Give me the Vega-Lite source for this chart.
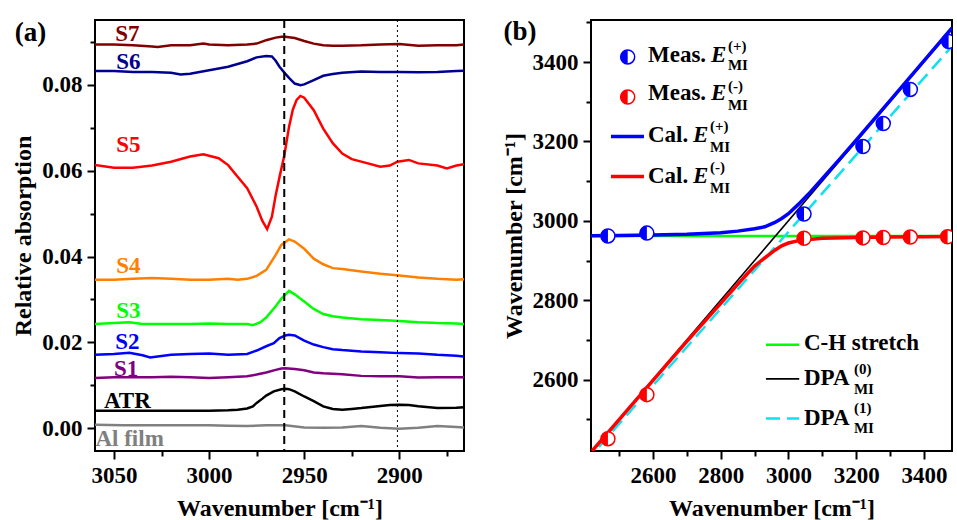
{
"$schema": "https://vega.github.io/schema/vega-lite/v6.json",
"background": "white",
"padding": {"left": 10, "top": 10, "right": 0, "bottom": 0},
"spacing": 36,
"config": {
 "font": "Liberation Serif",
 "view": {"stroke": "black", "strokeWidth": 2},
 "axis": {"labelFont": "Liberation Serif", "labelFontSize": 23, "labelFontWeight": "bold", "labelColor": "black", "titleFont": "Liberation Serif", "titleFontSize": 24, "titleFontWeight": "bold", "titleColor": "black", "tickColor": "black", "tickWidth": 2, "domain": false, "grid": false, "labelFlush": false, "labelOverlap": false, "labelPadding": 5},
 "axisX": {"titlePadding": 9},
 "axisY": {"titlePadding": 6},
 "text": {"font": "Liberation Serif", "fontWeight": "bold"}
},
"datasets": {
 "spectra": [
  {"s":"S7","w":3060,"a":0.0894},{"s":"S7","w":3050,"a":0.0894},{"s":"S7","w":3040,"a":0.0892},{"s":"S7","w":3030,"a":0.0889},{"s":"S7","w":3027,"a":0.0888},{"s":"S7","w":3020,"a":0.0892},{"s":"S7","w":3010,"a":0.0892},{"s":"S7","w":3003,"a":0.0896},{"s":"S7","w":3000,"a":0.0894},{"s":"S7","w":2990,"a":0.0892},{"s":"S7","w":2980,"a":0.0894},{"s":"S7","w":2975,"a":0.0896},{"s":"S7","w":2970,"a":0.0904},{"s":"S7","w":2965,"a":0.0910},{"s":"S7","w":2962,"a":0.0912},{"s":"S7","w":2960,"a":0.0912},{"s":"S7","w":2958,"a":0.0911},{"s":"S7","w":2955,"a":0.0909},{"s":"S7","w":2950,"a":0.0902},{"s":"S7","w":2945,"a":0.0896},{"s":"S7","w":2940,"a":0.0892},{"s":"S7","w":2935,"a":0.0891},{"s":"S7","w":2930,"a":0.0891},{"s":"S7","w":2920,"a":0.0892},{"s":"S7","w":2910,"a":0.0894},{"s":"S7","w":2900,"a":0.0895},{"s":"S7","w":2890,"a":0.0891},{"s":"S7","w":2880,"a":0.0892},{"s":"S7","w":2870,"a":0.0892},{"s":"S7","w":2866,"a":0.0894},
  {"s":"S6","w":3060,"a":0.0832},{"s":"S6","w":3050,"a":0.0832},{"s":"S6","w":3040,"a":0.0830},{"s":"S6","w":3030,"a":0.0830},{"s":"S6","w":3020,"a":0.0828},{"s":"S6","w":3015,"a":0.0824},{"s":"S6","w":3010,"a":0.0826},{"s":"S6","w":3000,"a":0.0834},{"s":"S6","w":2990,"a":0.0842},{"s":"S6","w":2980,"a":0.0855},{"s":"S6","w":2975,"a":0.0864},{"s":"S6","w":2970,"a":0.0867},{"s":"S6","w":2967,"a":0.0866},{"s":"S6","w":2965,"a":0.0856},{"s":"S6","w":2963,"a":0.0842},{"s":"S6","w":2960,"a":0.0826},{"s":"S6","w":2958,"a":0.0816},{"s":"S6","w":2955,"a":0.0803},{"s":"S6","w":2952,"a":0.0799},{"s":"S6","w":2950,"a":0.0801},{"s":"S6","w":2945,"a":0.0811},{"s":"S6","w":2940,"a":0.0821},{"s":"S6","w":2935,"a":0.0825},{"s":"S6","w":2930,"a":0.0828},{"s":"S6","w":2920,"a":0.0831},{"s":"S6","w":2910,"a":0.0830},{"s":"S6","w":2900,"a":0.0830},{"s":"S6","w":2890,"a":0.0829},{"s":"S6","w":2880,"a":0.0830},{"s":"S6","w":2870,"a":0.0832},{"s":"S6","w":2866,"a":0.0833},
  {"s":"S5","w":3060,"a":0.0613},{"s":"S5","w":3050,"a":0.0607},{"s":"S5","w":3040,"a":0.0607},{"s":"S5","w":3030,"a":0.0612},{"s":"S5","w":3020,"a":0.0621},{"s":"S5","w":3010,"a":0.0633},{"s":"S5","w":3003,"a":0.0638},{"s":"S5","w":2995,"a":0.0629},{"s":"S5","w":2990,"a":0.0613},{"s":"S5","w":2985,"a":0.0586},{"s":"S5","w":2980,"a":0.0559},{"s":"S5","w":2975,"a":0.0516},{"s":"S5","w":2972,"a":0.0483},{"s":"S5","w":2969.5,"a":0.0464},{"s":"S5","w":2967,"a":0.0493},{"s":"S5","w":2965,"a":0.0543},{"s":"S5","w":2963,"a":0.0585},{"s":"S5","w":2960.5,"a":0.0635},{"s":"S5","w":2958,"a":0.0702},{"s":"S5","w":2956,"a":0.0742},{"s":"S5","w":2954,"a":0.0765},{"s":"S5","w":2952,"a":0.0774},{"s":"S5","w":2950,"a":0.0770},{"s":"S5","w":2945,"a":0.0741},{"s":"S5","w":2940,"a":0.0698},{"s":"S5","w":2935,"a":0.0664},{"s":"S5","w":2930,"a":0.0640},{"s":"S5","w":2925,"a":0.0627},{"s":"S5","w":2920,"a":0.0621},{"s":"S5","w":2910,"a":0.0609},{"s":"S5","w":2905,"a":0.0612},{"s":"S5","w":2901,"a":0.0621},{"s":"S5","w":2895,"a":0.0625},{"s":"S5","w":2890,"a":0.0617},{"s":"S5","w":2880,"a":0.0612},{"s":"S5","w":2875,"a":0.0605},{"s":"S5","w":2870,"a":0.0612},{"s":"S5","w":2866,"a":0.0615},
  {"s":"S4","w":3060,"a":0.0346},{"s":"S4","w":3050,"a":0.0346},{"s":"S4","w":3040,"a":0.0348},{"s":"S4","w":3030,"a":0.0350},{"s":"S4","w":3020,"a":0.0348},{"s":"S4","w":3010,"a":0.0346},{"s":"S4","w":3000,"a":0.0346},{"s":"S4","w":2990,"a":0.0348},{"s":"S4","w":2985,"a":0.0346},{"s":"S4","w":2980,"a":0.0348},{"s":"S4","w":2975,"a":0.0355},{"s":"S4","w":2970,"a":0.0369},{"s":"S4","w":2965,"a":0.0404},{"s":"S4","w":2962,"a":0.0427},{"s":"S4","w":2958,"a":0.0440},{"s":"S4","w":2955,"a":0.0435},{"s":"S4","w":2950,"a":0.0418},{"s":"S4","w":2945,"a":0.0395},{"s":"S4","w":2940,"a":0.0382},{"s":"S4","w":2935,"a":0.0373},{"s":"S4","w":2930,"a":0.0371},{"s":"S4","w":2920,"a":0.0365},{"s":"S4","w":2910,"a":0.0360},{"s":"S4","w":2900,"a":0.0356},{"s":"S4","w":2890,"a":0.0351},{"s":"S4","w":2880,"a":0.0348},{"s":"S4","w":2870,"a":0.0346},{"s":"S4","w":2866,"a":0.0347},
  {"s":"S3","w":3060,"a":0.0243},{"s":"S3","w":3050,"a":0.0245},{"s":"S3","w":3042,"a":0.0247},{"s":"S3","w":3035,"a":0.0243},{"s":"S3","w":3020,"a":0.0243},{"s":"S3","w":3010,"a":0.0243},{"s":"S3","w":3000,"a":0.0244},{"s":"S3","w":2990,"a":0.0243},{"s":"S3","w":2980,"a":0.0243},{"s":"S3","w":2977,"a":0.0240},{"s":"S3","w":2973,"a":0.0247},{"s":"S3","w":2970,"a":0.0258},{"s":"S3","w":2965,"a":0.0284},{"s":"S3","w":2962,"a":0.0302},{"s":"S3","w":2958,"a":0.0320},{"s":"S3","w":2955,"a":0.0312},{"s":"S3","w":2950,"a":0.0295},{"s":"S3","w":2945,"a":0.0278},{"s":"S3","w":2940,"a":0.0266},{"s":"S3","w":2935,"a":0.0261},{"s":"S3","w":2930,"a":0.0258},{"s":"S3","w":2920,"a":0.0254},{"s":"S3","w":2910,"a":0.0252},{"s":"S3","w":2900,"a":0.0250},{"s":"S3","w":2890,"a":0.0247},{"s":"S3","w":2880,"a":0.0245},{"s":"S3","w":2870,"a":0.0244},{"s":"S3","w":2866,"a":0.0243},
  {"s":"S2","w":3060,"a":0.0171},{"s":"S2","w":3050,"a":0.0173},{"s":"S2","w":3042,"a":0.0176},{"s":"S2","w":3035,"a":0.0170},{"s":"S2","w":3031,"a":0.0165},{"s":"S2","w":3020,"a":0.0171},{"s":"S2","w":3010,"a":0.0173},{"s":"S2","w":3000,"a":0.0174},{"s":"S2","w":2990,"a":0.0171},{"s":"S2","w":2980,"a":0.0173},{"s":"S2","w":2975,"a":0.0181},{"s":"S2","w":2970,"a":0.0191},{"s":"S2","w":2966,"a":0.0198},{"s":"S2","w":2963,"a":0.0210},{"s":"S2","w":2960,"a":0.0216},{"s":"S2","w":2958,"a":0.0218},{"s":"S2","w":2955,"a":0.0216},{"s":"S2","w":2950,"a":0.0204},{"s":"S2","w":2945,"a":0.0195},{"s":"S2","w":2940,"a":0.0189},{"s":"S2","w":2935,"a":0.0184},{"s":"S2","w":2930,"a":0.0182},{"s":"S2","w":2920,"a":0.0179},{"s":"S2","w":2910,"a":0.0177},{"s":"S2","w":2900,"a":0.0175},{"s":"S2","w":2890,"a":0.0174},{"s":"S2","w":2880,"a":0.0171},{"s":"S2","w":2870,"a":0.0169},{"s":"S2","w":2866,"a":0.0167},
  {"s":"S1","w":3060,"a":0.0117},{"s":"S1","w":3050,"a":0.0119},{"s":"S1","w":3040,"a":0.0119},{"s":"S1","w":3030,"a":0.0119},{"s":"S1","w":3020,"a":0.0120},{"s":"S1","w":3010,"a":0.0119},{"s":"S1","w":3000,"a":0.0117},{"s":"S1","w":2990,"a":0.0119},{"s":"S1","w":2980,"a":0.0121},{"s":"S1","w":2975,"a":0.0125},{"s":"S1","w":2970,"a":0.0130},{"s":"S1","w":2965,"a":0.0136},{"s":"S1","w":2962,"a":0.0139},{"s":"S1","w":2960,"a":0.0140},{"s":"S1","w":2955,"a":0.0138},{"s":"S1","w":2950,"a":0.0135},{"s":"S1","w":2945,"a":0.0130},{"s":"S1","w":2940,"a":0.0128},{"s":"S1","w":2930,"a":0.0126},{"s":"S1","w":2920,"a":0.0122},{"s":"S1","w":2910,"a":0.0121},{"s":"S1","w":2900,"a":0.0121},{"s":"S1","w":2890,"a":0.0118},{"s":"S1","w":2880,"a":0.0119},{"s":"S1","w":2870,"a":0.0119},{"s":"S1","w":2866,"a":0.0119},
  {"s":"ATR","w":3060,"a":0.0041},{"s":"ATR","w":3040,"a":0.0041},{"s":"ATR","w":3020,"a":0.0041},{"s":"ATR","w":3000,"a":0.0041},{"s":"ATR","w":2990,"a":0.0042},{"s":"ATR","w":2985,"a":0.0043},{"s":"ATR","w":2980,"a":0.0046},{"s":"ATR","w":2977,"a":0.0051},{"s":"ATR","w":2975,"a":0.0059},{"s":"ATR","w":2972,"a":0.0069},{"s":"ATR","w":2970,"a":0.0076},{"s":"ATR","w":2966,"a":0.0086},{"s":"ATR","w":2962,"a":0.0091},{"s":"ATR","w":2960,"a":0.0092},{"s":"ATR","w":2958,"a":0.0091},{"s":"ATR","w":2955,"a":0.0086},{"s":"ATR","w":2950,"a":0.0074},{"s":"ATR","w":2945,"a":0.0063},{"s":"ATR","w":2940,"a":0.0051},{"s":"ATR","w":2935,"a":0.0045},{"s":"ATR","w":2930,"a":0.0043},{"s":"ATR","w":2925,"a":0.0045},{"s":"ATR","w":2920,"a":0.0047},{"s":"ATR","w":2910,"a":0.0052},{"s":"ATR","w":2905,"a":0.0054},{"s":"ATR","w":2900,"a":0.0055},{"s":"ATR","w":2895,"a":0.0054},{"s":"ATR","w":2890,"a":0.0051},{"s":"ATR","w":2880,"a":0.0047},{"s":"ATR","w":2870,"a":0.0048},{"s":"ATR","w":2866,"a":0.0049},
  {"s":"Al film","w":3060,"a":0.0008},{"s":"Al film","w":3045,"a":0.0007},{"s":"Al film","w":3030,"a":0.0007},{"s":"Al film","w":3010,"a":0.0007},{"s":"Al film","w":3000,"a":0.0007},{"s":"Al film","w":2990,"a":0.0006},{"s":"Al film","w":2980,"a":0.0005},{"s":"Al film","w":2970,"a":0.0007},{"s":"Al film","w":2960,"a":0.0007},{"s":"Al film","w":2950,"a":0.0002},{"s":"Al film","w":2940,"a":0.0001},{"s":"Al film","w":2930,"a":0.0002},{"s":"Al film","w":2920,"a":0.0005},{"s":"Al film","w":2910,"a":0.0001},{"s":"Al film","w":2900,"a":-0.0001},{"s":"Al film","w":2890,"a":0.0001},{"s":"Al film","w":2880,"a":0.0005},{"s":"Al film","w":2870,"a":0.0003},{"s":"Al film","w":2866,"a":0.0002}
 ],
 "alabels": [
  {"s":"S7","w":3043.0,"a":0.0919},{"s":"S6","w":3042.5,"a":0.0853},{"s":"S5","w":3042.5,"a":0.0660},{"s":"S4","w":3042.5,"a":0.0377},{"s":"S3","w":3042.5,"a":0.0273},{"s":"S2","w":3043.0,"a":0.0202},{"s":"S1","w":3043.6,"a":0.0137},{"s":"ATR","w":3043.0,"a":0.0064},{"s":"Al film","w":3041.8,"a":-0.0025}
 ],
 "atag": [{"w": 3093.9, "a": 0.0920, "t": "(a)"}],
 "vdash": [{"w": 2960.5}],
 "vdot": [{"w": 2901}],
 "bc": [
  {"k":"ch","x":2417,"y":2962},{"k":"ch","x":3483,"y":2962},
  {"k":"ch_l","x":2933.6,"y":2687.8},{"k":"ch_l","x":3031.9,"y":2687.8},
  {"k":"dpa0","x":2420,"y":2420},{"k":"dpa0","x":3483,"y":3483},
  {"k":"dpa0_l","x":2933.6,"y":2601.8},{"k":"dpa0_l","x":3031.9,"y":2601.8},
  {"k":"dpa1","x":2440,"y":2430},{"k":"dpa1","x":3483,"y":3440},
  {"k":"dpa1_l","x":2933.6,"y":2502},{"k":"dpa1_l","x":3031.9,"y":2502},
  {"k":"calm","x":2420,"y":2420},{"k":"calm","x":2500,"y":2499},{"k":"calm","x":2600,"y":2598},{"k":"calm","x":2700,"y":2696},{"k":"calm","x":2800,"y":2792},{"k":"calm","x":2850,"y":2840},{"k":"calm","x":2880,"y":2868},{"k":"calm","x":2900,"y":2886},{"k":"calm","x":2920,"y":2900},{"k":"calm","x":2940,"y":2913},{"k":"calm","x":2960,"y":2926},{"k":"calm","x":2980,"y":2937},{"k":"calm","x":3000,"y":2944},{"k":"calm","x":3030,"y":2950},{"k":"calm","x":3060,"y":2953},{"k":"calm","x":3100,"y":2956},{"k":"calm","x":3200,"y":2958},{"k":"calm","x":3300,"y":2959.5},{"k":"calm","x":3400,"y":2960},{"k":"calm","x":3483,"y":2960.5},
  {"k":"calm_l","x":2476,"y":3111.4},{"k":"calm_l","x":2573.4,"y":3111.4},
  {"k":"calp","x":2417,"y":2962.5},{"k":"calp","x":2500,"y":2963},{"k":"calp","x":2600,"y":2964},{"k":"calp","x":2700,"y":2966},{"k":"calp","x":2800,"y":2970},{"k":"calp","x":2850,"y":2974},{"k":"calp","x":2900,"y":2980},{"k":"calp","x":2930,"y":2985},{"k":"calp","x":2960,"y":2996},{"k":"calp","x":2980,"y":3006},{"k":"calp","x":3000,"y":3018},{"k":"calp","x":3030,"y":3042},{"k":"calp","x":3060,"y":3068},{"k":"calp","x":3100,"y":3106},{"k":"calp","x":3150,"y":3154},{"k":"calp","x":3200,"y":3203},{"k":"calp","x":3300,"y":3303},{"k":"calp","x":3400,"y":3403},{"k":"calp","x":3483,"y":3486},
  {"k":"calp_l","x":2476,"y":3212.7},{"k":"calp_l","x":2573.4,"y":3212.7}
 ],
 "meas": [
  {"k":"p","x":2467,"y":2962},{"k":"p","x":2582,"y":2969},{"k":"p","x":3046,"y":3017},{"k":"p","x":3220,"y":3187},{"k":"p","x":3280,"y":3245},{"k":"p","x":3360,"y":3331},{"k":"p","x":3473,"y":3452},
  {"k":"m","x":2467,"y":2451},{"k":"m","x":2582,"y":2562},{"k":"m","x":3046,"y":2956},{"k":"m","x":3220,"y":2957},{"k":"m","x":3280,"y":2958},{"k":"m","x":3360,"y":2959},{"k":"m","x":3470,"y":2960},
  {"k":"p","x":2525.3,"y":3413},{"k":"m","x":2525.3,"y":3312}
 ],
 "tbig": [
  {"x":2585.2,"y":3417.7,"t":"Meas."},{"x":2585.2,"y":3321.5,"t":"Meas."},{"x":2585.2,"y":3215.2,"t":"Cal."},{"x":2585.2,"y":3113.9,"t":"Cal."},
  {"x":3045.8,"y":2691.9,"t":"C-H stretch"},{"x":3045.8,"y":2603.3,"t":"DPA"},{"x":3045.8,"y":2503.8,"t":"DPA"}
 ],
 "tital": [
  {"x":2771.2,"y":3417.7,"t":"E"},{"x":2771.2,"y":3321.5,"t":"E"},{"x":2718.1,"y":3215.2,"t":"E"},{"x":2718.1,"y":3113.9,"t":"E"}
 ],
 "tsmall": [
  {"x":2821.4,"y":3440.5,"t":"(+)"},{"x":2821.4,"y":3392.4,"t":"MI"},
  {"x":2821.4,"y":3339.2,"t":"(-)"},{"x":2821.4,"y":3291.1,"t":"MI"},
  {"x":2768.3,"y":3238,"t":"(+)"},{"x":2768.3,"y":3184.8,"t":"MI"},
  {"x":2768.3,"y":3136.7,"t":"(-)"},{"x":2768.3,"y":3083.5,"t":"MI"},
  {"x":3193.4,"y":2627.8,"t":"(0)"},{"x":3193.4,"y":2577.2,"t":"MI"},
  {"x":3193.4,"y":2527.3,"t":"(1)"},{"x":3193.4,"y":2478.5,"t":"MI"}
 ],
 "btag": [{"x": 2207.4, "y": 3474.7, "t": "(b)"}]
},
"hconcat": [
 {
  "width": 369, "height": 431,
  "layer": [
   {"data": {"name": "spectra"}, "mark": {"type": "line", "strokeWidth": 2.5, "clip": true},
    "encoding": {
     "x": {"field": "w", "type": "quantitative", "scale": {"domain": [2866, 3060], "reverse": true, "nice": false, "zero": false},
       "axis": {"title": "Wavenumber [cm⁻¹]", "values": [3050, 3025, 3000, 2975, 2950, 2925, 2900, 2875], "labelExpr": "datum.value % 50 == 0 ? format(datum.value, 'd') : ''", "tickSize": {"condition": {"test": "datum.value % 50 != 0", "value": 5}, "value": 8}}},
     "y": {"field": "a", "type": "quantitative", "scale": {"domain": [-0.0053, 0.0951], "nice": false, "zero": false},
       "axis": {"title": "Relative absorption", "values": [0, 0.01, 0.02, 0.03, 0.04, 0.05, 0.06, 0.07, 0.08, 0.09], "labelExpr": "round(datum.value*100) % 2 == 0 ? format(datum.value, '.2f') : ''", "tickSize": {"condition": {"test": "round(datum.value*100) % 2 == 1", "value": 5}, "value": 8}}},
     "color": {"field": "s", "type": "nominal", "scale": {"domain": ["S7","S6","S5","S4","S3","S2","S1","ATR","Al film"], "range": ["#800000","#000090","#ff0000","#ff8000","#00ff00","#0000ff","#800080","#000000","#808080"]}, "legend": null}
    }},
   {"data": {"name": "vdash"}, "mark": {"type": "rule", "strokeDash": [8, 5], "strokeWidth": 2, "color": "black"},
    "encoding": {"x": {"field": "w", "type": "quantitative"}}},
   {"data": {"name": "vdot"}, "mark": {"type": "rule", "strokeDash": [2, 3], "strokeWidth": 1, "color": "black"},
    "encoding": {"x": {"field": "w", "type": "quantitative"}}},
   {"data": {"name": "alabels"}, "mark": {"type": "text", "fontSize": 23, "fontWeight": "bold", "font": "Liberation Serif", "align": "center", "baseline": "middle"},
    "encoding": {"x": {"field": "w", "type": "quantitative"}, "y": {"field": "a", "type": "quantitative"}, "text": {"field": "s"}, "color": {"field": "s", "type": "nominal", "legend": null}}},
   {"data": {"name": "atag"}, "mark": {"type": "text", "fontSize": 27, "fontWeight": "bold", "font": "Liberation Serif", "align": "center", "baseline": "middle", "color": "black"},
    "encoding": {"x": {"field": "w", "type": "quantitative"}, "y": {"field": "a", "type": "quantitative"}, "text": {"field": "t"}}}
  ]
 },
 {
  "width": 361, "height": 431,
  "layer": [
   {"data": {"name": "bc"}, "transform": [{"filter": "datum.k == 'ch' || datum.k == 'ch_l'"}],
    "mark": {"type": "line", "color": "#00ff00", "strokeWidth": 2.5, "clip": true},
    "encoding": {
     "x": {"field": "x", "type": "quantitative", "scale": {"domain": [2417, 3483], "nice": false, "zero": false},
       "axis": {"title": "Wavenumber [cm⁻¹]", "values": [2500, 2600, 2700, 2800, 2900, 3000, 3100, 3200, 3300, 3400], "labelExpr": "datum.value % 200 == 0 ? format(datum.value, 'd') : ''", "tickSize": {"condition": {"test": "datum.value % 200 != 0", "value": 5}, "value": 8}}},
     "y": {"field": "y", "type": "quantitative", "scale": {"domain": [2420, 3506], "nice": false, "zero": false},
       "axis": {"title": "Wavenumber [cm⁻¹]", "values": [2500, 2600, 2700, 2800, 2900, 3000, 3100, 3200, 3300, 3400, 3500], "labelExpr": "datum.value % 200 == 0 ? format(datum.value, 'd') : ''", "tickSize": {"condition": {"test": "datum.value % 200 != 0", "value": 5}, "value": 8}}},
     "detail": {"field": "k"}
    }},
   {"data": {"name": "bc"}, "transform": [{"filter": "datum.k == 'dpa0' || datum.k == 'dpa0_l'"}],
    "mark": {"type": "line", "color": "#000000", "strokeWidth": 1.6, "clip": true},
    "encoding": {"x": {"field": "x", "type": "quantitative"}, "y": {"field": "y", "type": "quantitative"}, "detail": {"field": "k"}}},
   {"data": {"name": "bc"}, "transform": [{"filter": "datum.k == 'dpa1' || datum.k == 'dpa1_l'"}],
    "mark": {"type": "line", "color": "#10e0f0", "strokeWidth": 2.5, "strokeDash": [14, 7], "clip": true},
    "encoding": {"x": {"field": "x", "type": "quantitative"}, "y": {"field": "y", "type": "quantitative"}, "detail": {"field": "k"}}},
   {"data": {"name": "bc"}, "transform": [{"filter": "datum.k == 'calm' || datum.k == 'calm_l'"}],
    "mark": {"type": "line", "color": "#ff0000", "strokeWidth": 3.5, "clip": true},
    "encoding": {"x": {"field": "x", "type": "quantitative"}, "y": {"field": "y", "type": "quantitative"}, "detail": {"field": "k"}}},
   {"data": {"name": "bc"}, "transform": [{"filter": "datum.k == 'calp' || datum.k == 'calp_l'"}],
    "mark": {"type": "line", "color": "#0000ff", "strokeWidth": 3.5, "clip": true},
    "encoding": {"x": {"field": "x", "type": "quantitative"}, "y": {"field": "y", "type": "quantitative"}, "detail": {"field": "k"}}},
   {"data": {"name": "meas"}, "mark": {"type": "point", "shape": "circle", "filled": true, "fill": "white", "strokeWidth": 1.5, "size": 196, "opacity": 1, "clip": true},
    "encoding": {"x": {"field": "x", "type": "quantitative"}, "y": {"field": "y", "type": "quantitative"},
     "stroke": {"field": "k", "type": "nominal", "scale": {"domain": ["p", "m"], "range": ["#0000ff", "#ff0000"]}, "legend": null}}},
   {"data": {"name": "meas"}, "mark": {"type": "point", "shape": "M0,-1A1,1,0,0,0,0,1Z", "filled": true, "strokeWidth": 0, "size": 196, "opacity": 1, "clip": true},
    "encoding": {"x": {"field": "x", "type": "quantitative"}, "y": {"field": "y", "type": "quantitative"},
     "fill": {"field": "k", "type": "nominal", "scale": {"domain": ["p", "m"], "range": ["#0000ff", "#ff0000"]}, "legend": null}}},
   {"data": {"name": "tbig"}, "mark": {"type": "text", "fontSize": 23, "fontWeight": "bold", "font": "Liberation Serif", "align": "left", "baseline": "middle", "color": "black"},
    "encoding": {"x": {"field": "x", "type": "quantitative"}, "y": {"field": "y", "type": "quantitative"}, "text": {"field": "t"}}},
   {"data": {"name": "tital"}, "mark": {"type": "text", "fontSize": 23, "fontWeight": "bold", "fontStyle": "italic", "font": "Liberation Serif", "align": "left", "baseline": "middle", "color": "black"},
    "encoding": {"x": {"field": "x", "type": "quantitative"}, "y": {"field": "y", "type": "quantitative"}, "text": {"field": "t"}}},
   {"data": {"name": "tsmall"}, "mark": {"type": "text", "fontSize": 15, "fontWeight": "bold", "font": "Liberation Serif", "align": "left", "baseline": "middle", "color": "black"},
    "encoding": {"x": {"field": "x", "type": "quantitative"}, "y": {"field": "y", "type": "quantitative"}, "text": {"field": "t"}}},
   {"data": {"name": "btag"}, "mark": {"type": "text", "fontSize": 27, "fontWeight": "bold", "font": "Liberation Serif", "align": "center", "baseline": "middle", "color": "black"},
    "encoding": {"x": {"field": "x", "type": "quantitative"}, "y": {"field": "y", "type": "quantitative"}, "text": {"field": "t"}}}
  ]
 }
]
}
